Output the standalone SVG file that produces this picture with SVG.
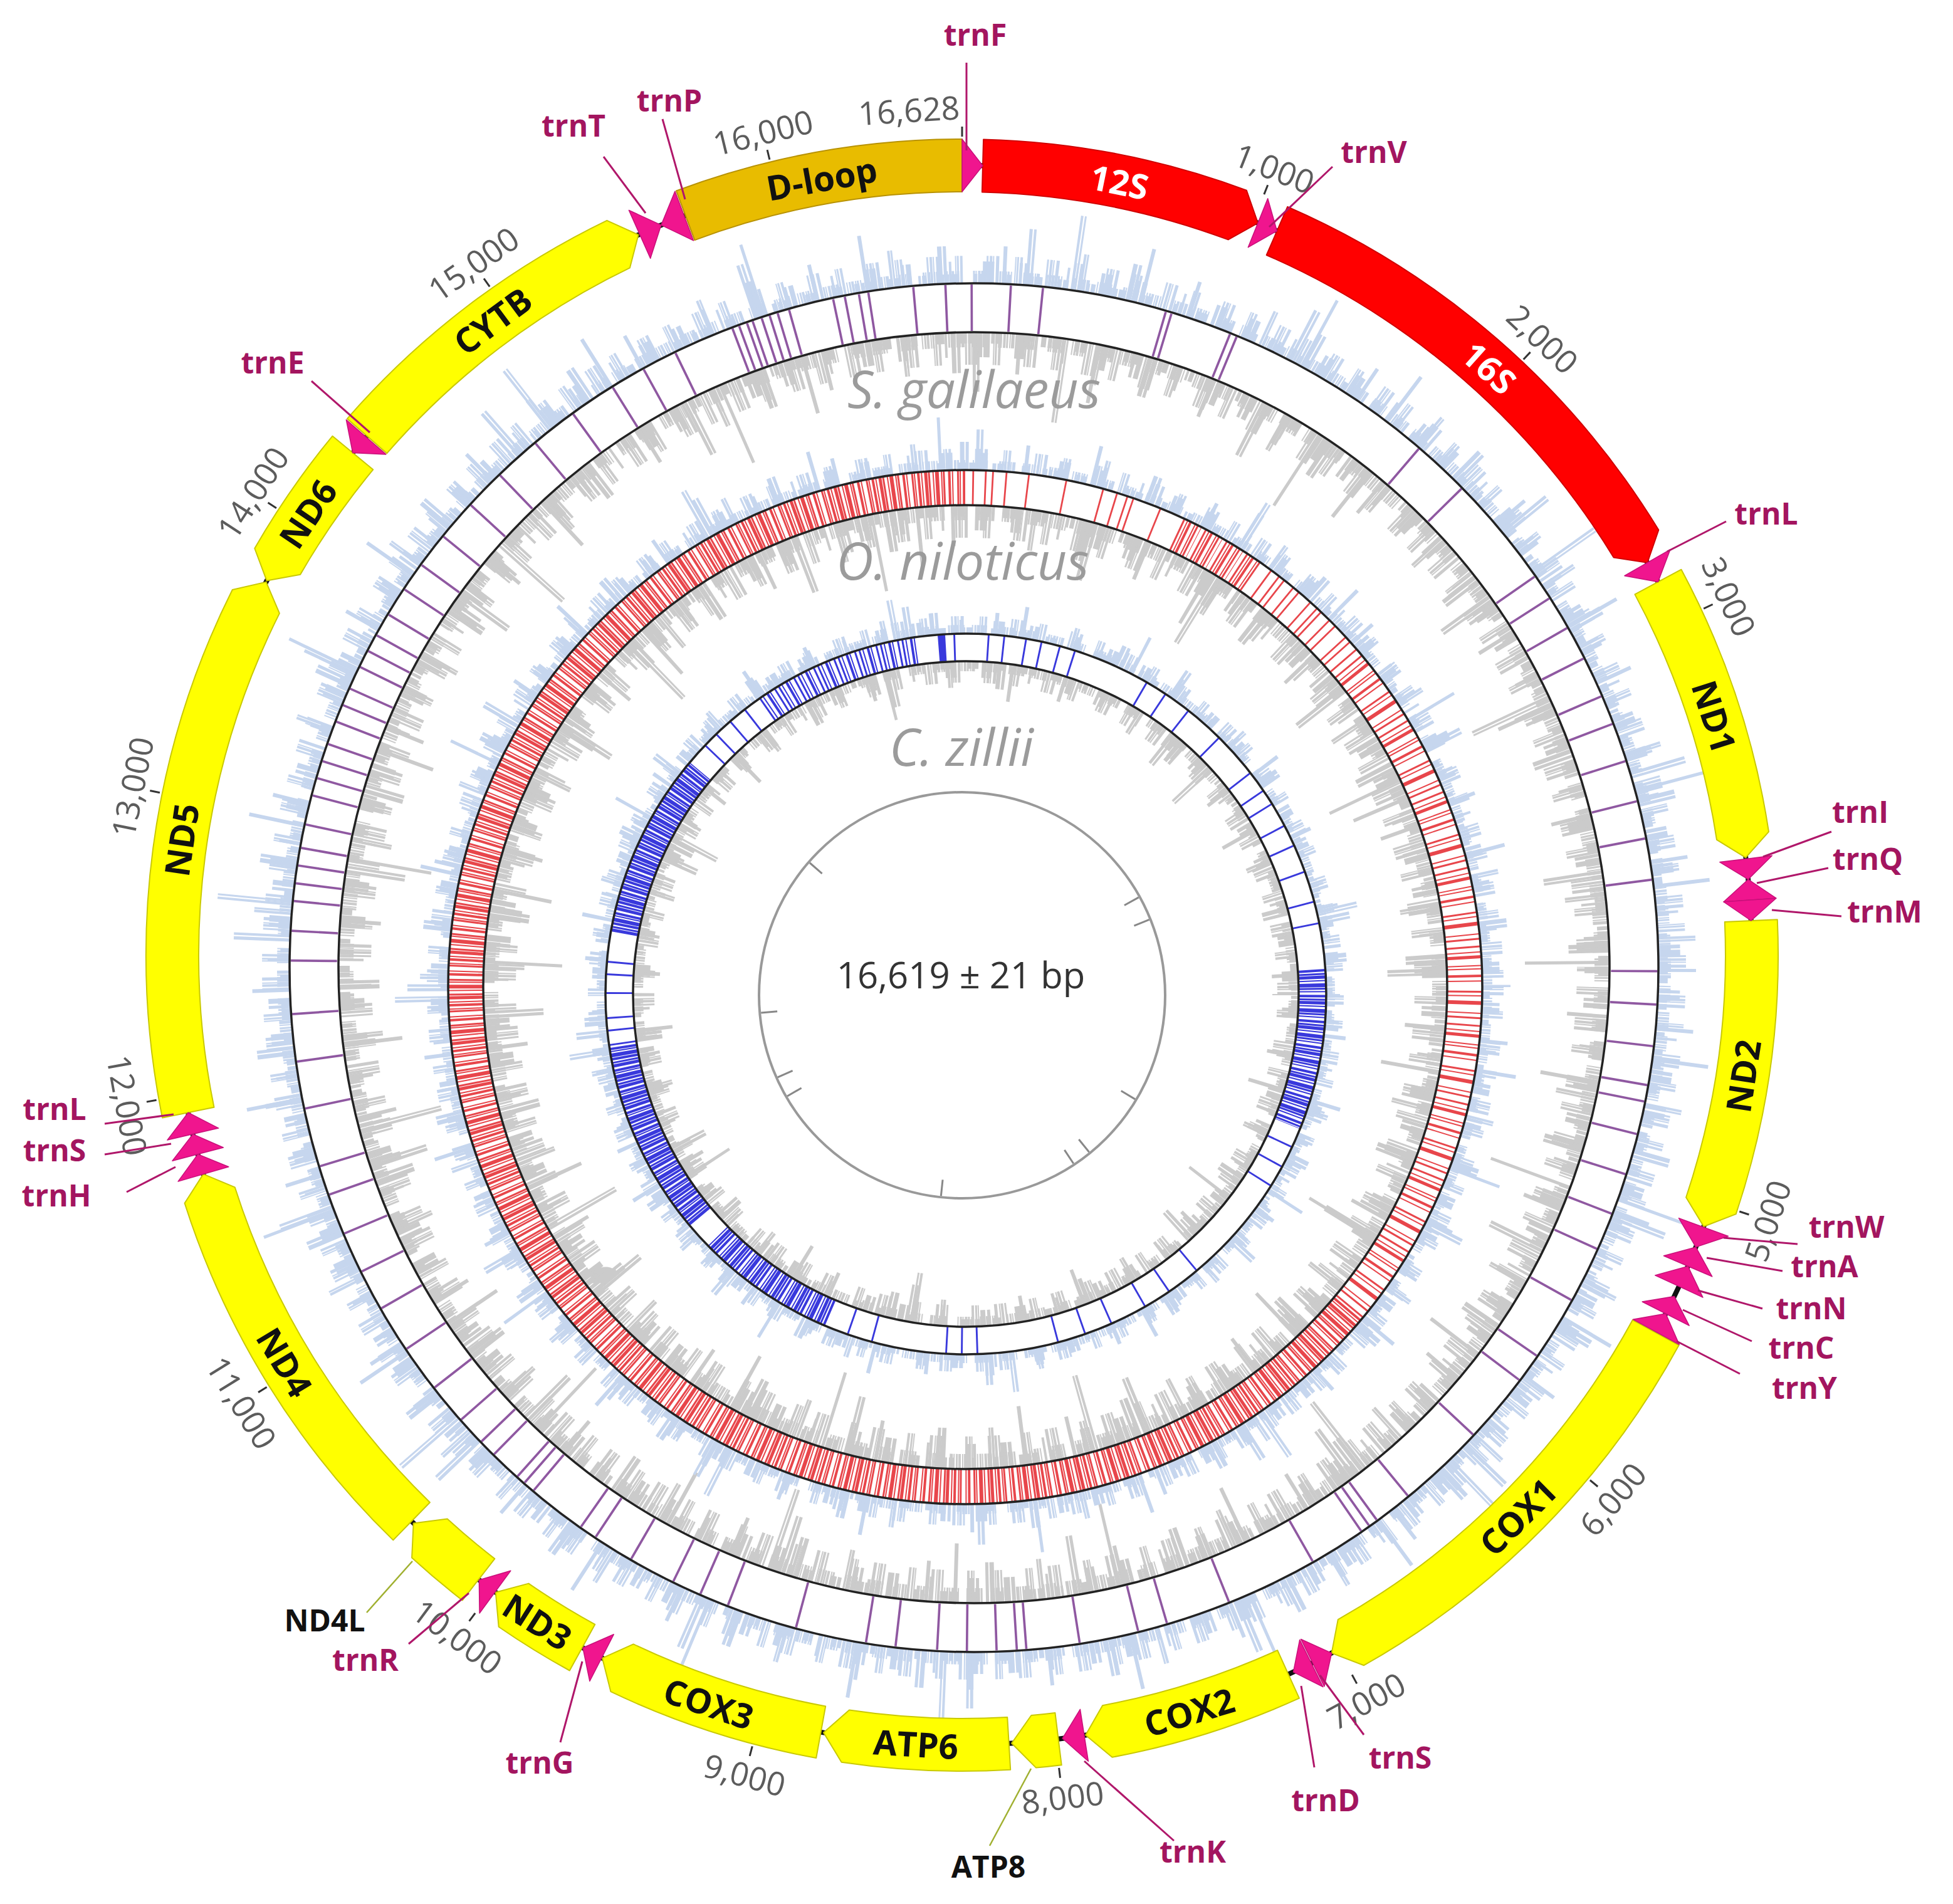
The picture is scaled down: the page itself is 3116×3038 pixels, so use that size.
<svg xmlns="http://www.w3.org/2000/svg" width="3116" height="3038" viewBox="0 0 3116 3038">
<style>
.gene{fill:#ffff00;stroke:#c9c900;stroke-width:2;stroke-linejoin:round}
.rrna{fill:#ff0000;stroke:#d00000;stroke-width:2;stroke-linejoin:round}
.dloop{fill:#e8bc00;stroke:#b89200;stroke-width:2;stroke-linejoin:round}
.trna{fill:#f0158e;stroke:#c8107a;stroke-width:1.5;stroke-linejoin:round}
.glab{font-family:"Open Sans","Liberation Sans",sans-serif;font-weight:700;font-size:55px;text-anchor:middle;dominant-baseline:central;fill:#111}
.wlab{fill:#ffffff}
.tlab{font-family:"Open Sans","Liberation Sans",sans-serif;font-weight:700;font-size:48px;fill:#a3155f;text-anchor:middle}
.blab{font-family:"Open Sans","Liberation Sans",sans-serif;font-weight:700;font-size:48px;fill:#111;text-anchor:middle}
.lead{stroke:#b0176a;stroke-width:3;fill:none}
.olead{stroke:#a0b030;stroke-width:2.5;fill:none}
.tick{stroke:#333;stroke-width:3}
.itick{stroke:#888;stroke-width:3}
.num{font-family:"Open Sans","Liberation Sans",sans-serif;font-size:52px;fill:#5c5c5c;text-anchor:middle;dominant-baseline:central}
.sp{font-family:"Open Sans","Liberation Sans",sans-serif;font-style:italic;font-size:82px;fill:#9b9b9b;text-anchor:middle}
.ring{fill:none;stroke:#222;stroke-width:3.5}
.hg{fill:none;stroke:#cbcbcb}
.hb{fill:none;stroke:#c6d6ee}
.d1{stroke-dasharray:8 3 5 2 12 25 6 2 9 30 4 2 7 20}
.d2{stroke-dasharray:6 2 10 40 5 3 8 60 4 50}
.d3{stroke-dasharray:7 2 5 90 6 120 4 1 3 70}
.d4{stroke-dasharray:5 2 4 180 6 260}
.d5{stroke-dasharray:4 2 3 400 5 520}
.e1{stroke-dasharray:3 1 2 2 4 1 3 2 2 1 5 12 2 2 3 1 4 2 2 1 3 2 2 18}
.e2{stroke-dasharray:3 2 4 1 2 3 5 25 2 1 3 2 4 38}
.pl{fill:none;stroke:#7b3b91;stroke-opacity:0.85}
.rl{fill:none;stroke:#e4262b;stroke-opacity:0.85}
.bl{fill:none;stroke:#2424d8;stroke-opacity:0.9}
</style>

<g id="histograms">
<g id="hist-sgal">
<circle class="hb d5" cx="1554" cy="1544" r="1152" stroke-width="120" stroke-dashoffset="13"/>
<circle class="hb d4" cx="1554" cy="1544" r="1137" stroke-width="90" stroke-dashoffset="41"/>
<circle class="hb d3" cx="1554" cy="1544" r="1122" stroke-width="60" stroke-dashoffset="7"/>
<circle class="hb e2" cx="1554" cy="1544" r="1114" stroke-width="44" stroke-dashoffset="51"/>
<circle class="hb d2" cx="1554" cy="1544" r="1109.5" stroke-width="35" stroke-dashoffset="22"/>
<circle class="hb e1" cx="1554" cy="1544" r="1102" stroke-width="20" stroke-dashoffset="9"/>
<circle class="hb d1" cx="1554" cy="1544" r="1099.5" stroke-width="15" stroke-dashoffset="5"/>
<circle class="hg d5" cx="1554" cy="1544" r="946.5" stroke-width="135" stroke-dashoffset="77"/>
<circle class="hg d4" cx="1554" cy="1544" r="966.5" stroke-width="95" stroke-dashoffset="18"/>
<circle class="hg d3" cx="1554" cy="1544" r="981.5" stroke-width="65" stroke-dashoffset="31"/>
<circle class="hg e2" cx="1554" cy="1544" r="988" stroke-width="52" stroke-dashoffset="14"/>
<circle class="hg d2" cx="1554" cy="1544" r="994" stroke-width="40" stroke-dashoffset="9"/>
<circle class="hg e1" cx="1554" cy="1544" r="1002" stroke-width="24" stroke-dashoffset="40"/>
<circle class="hg d1" cx="1554" cy="1544" r="1005" stroke-width="18" stroke-dashoffset="17"/>
</g>
<g id="hist-onil">
<circle class="hb d5" cx="1540" cy="1575" r="867.5" stroke-width="85" stroke-dashoffset="101"/>
<circle class="hb d4" cx="1540" cy="1575" r="857.5" stroke-width="65" stroke-dashoffset="55"/>
<circle class="hb d3" cx="1540" cy="1575" r="847.5" stroke-width="45" stroke-dashoffset="19"/>
<circle class="hb e2" cx="1540" cy="1575" r="842" stroke-width="34" stroke-dashoffset="7"/>
<circle class="hb d2" cx="1540" cy="1575" r="839" stroke-width="28" stroke-dashoffset="33"/>
<circle class="hb e1" cx="1540" cy="1575" r="833" stroke-width="16" stroke-dashoffset="21"/>
<circle class="hb d1" cx="1540" cy="1575" r="831" stroke-width="12" stroke-dashoffset="11"/>
<circle class="hg d5" cx="1540" cy="1575" r="706.5" stroke-width="125" stroke-dashoffset="23"/>
<circle class="hg d4" cx="1540" cy="1575" r="721.5" stroke-width="95" stroke-dashoffset="66"/>
<circle class="hg d3" cx="1540" cy="1575" r="736.5" stroke-width="65" stroke-dashoffset="44"/>
<circle class="hg e2" cx="1540" cy="1575" r="743" stroke-width="52" stroke-dashoffset="30"/>
<circle class="hg d2" cx="1540" cy="1575" r="749" stroke-width="40" stroke-dashoffset="27"/>
<circle class="hg e1" cx="1540" cy="1575" r="757" stroke-width="24" stroke-dashoffset="12"/>
<circle class="hg d1" cx="1540" cy="1575" r="760" stroke-width="18" stroke-dashoffset="3"/>
</g>
<g id="hist-czil">
<circle class="hb d5" cx="1541" cy="1586" r="607.5" stroke-width="65" stroke-dashoffset="61"/>
<circle class="hb d4" cx="1541" cy="1586" r="600" stroke-width="50" stroke-dashoffset="14"/>
<circle class="hb d3" cx="1541" cy="1586" r="592.5" stroke-width="35" stroke-dashoffset="38"/>
<circle class="hb e2" cx="1541" cy="1586" r="589" stroke-width="28" stroke-dashoffset="3"/>
<circle class="hb d2" cx="1541" cy="1586" r="586" stroke-width="22" stroke-dashoffset="15"/>
<circle class="hb e1" cx="1541" cy="1586" r="582" stroke-width="14" stroke-dashoffset="6"/>
<circle class="hb d1" cx="1541" cy="1586" r="580" stroke-width="10" stroke-dashoffset="29"/>
<circle class="hg d5" cx="1541" cy="1586" r="491" stroke-width="80" stroke-dashoffset="88"/>
<circle class="hg d4" cx="1541" cy="1586" r="501" stroke-width="60" stroke-dashoffset="47"/>
<circle class="hg d3" cx="1541" cy="1586" r="510" stroke-width="42" stroke-dashoffset="12"/>
<circle class="hg e2" cx="1541" cy="1586" r="514" stroke-width="34" stroke-dashoffset="19"/>
<circle class="hg d2" cx="1541" cy="1586" r="518" stroke-width="26" stroke-dashoffset="36"/>
<circle class="hg e1" cx="1541" cy="1586" r="523" stroke-width="16" stroke-dashoffset="27"/>
<circle class="hg d1" cx="1541" cy="1586" r="525" stroke-width="12" stroke-dashoffset="8"/>
</g>
</g>

<g id="track-sgal">
<path class="pl" stroke-width="74" pathLength="3600" d="M1554 491 A1053 1053 0 1 1 1554 2597 A1053 1053 0 1 1 1554 491" stroke-dasharray="0 30 2 25 2 103 2 3 2 50 2 4 2 178 2 47 2 94 2 20 2 27 2 27 2 33 2 23 2 31 2 33 2 30 2 33 2 75 2 26 2 33 2 31 2 12 2 26 2 33 2 33 2 30 2 46 2 53 2 23 2 58 2 73 2 31 2 6 2 6 2 46 2 76 2 53 2 23 2 48 2 43 2 6 2 15 2 23 2 23 2 33 2 23 2 58 2 58 2 23 2 23 2 38 2 33 2 13 2 48 2 8 2 6 2 25 2 13 2 23 2 33 2 38 2 38 2 33 2 33 2 33 2 23 2 48 2 38 2 38 2 43 2 23 2 23 2 13 2 13 2 13 2 18 2 23 2 13 2 13 2 13 2 18 2 13 2 13 2 18 2 13 2 13 2 18 2 23 2 23 2 28 2 33 2 33 2 38 2 38 2 38 2 28 2 28 2 50 2 4 2 5 2 3 2 6 2 5 2 5 2 8 2 36 2 8 2 10 2 6 2 36 2 25 2 20 2 100"/>
<circle class="ring" cx="1554" cy="1544" r="1092"/>
<circle class="ring" cx="1554" cy="1544" r="1014"/>
</g>

<g id="track-onil">
<path class="rl" stroke-width="54" pathLength="3600" d="M1540 778 A797 797 0 1 1 1540 2372 A797 797 0 1 1 1540 778" stroke-dasharray="0 8 2 12 2 6 2 13 2 23 2 40 2 40 2 14 2 10 2 5 2 30 2 139 2 9 2 5 2 11 2 6 2 15 2 8 2 4 2 11 2 7 2 15 2 5 2 9 2 9999"/>
<path class="rl" stroke-width="54" d="M1876.8 852.7 A797 797 0 0 1 1997.1 922.1" stroke-dasharray="3 3 2 2 4 5 2 2 3 4 1 6"/>
<path class="rl" stroke-width="54" d="M2150.5 1062.7 A797 797 0 0 1 2150.5 2087.3" stroke-dasharray="3 6 2 4 5 10 2 3 2 8 4 5 2 14 3 4 2 7 6 12 2 5 3 9"/>
<path class="rl" stroke-width="54" d="M2150.5 2087.3 A797 797 0 1 1 1540 778" stroke-dasharray="4 2 2 3 5 1 3 4 2 2 6 3 2 1 3 5 4 2 2 6 3 1 2 3"/>
<circle class="ring" cx="1540" cy="1575" r="825"/>
<circle class="ring" cx="1540" cy="1575" r="769"/>
</g>

<g id="track-czil">
<path class="bl" stroke-width="42" pathLength="3600" d="M1541 1033 A553 553 0 1 1 1541 2139 A553 553 0 1 1 1541 1033" stroke-dasharray="0 35 3 22 3 32 3 22 3 27 3 22 3 122 3 32 3 42 3 62 3 72 3 32 3 22 3 37 3 32 3 42 3 47 3 32 3 362 3 32 3 32 3 177 3 52 3 42 3 57 3 42 3 42 3 127 3 22 3 22 3 117 3 37 3 647 3 17 3 37 3 27 3 17 3 382 3 22 3 27 3 27 3 332 12 13 3 200"/>
<path class="bl" stroke-width="42" d="M1223.8 1133 A553 553 0 0 1 1464 1038.4" stroke-dasharray="3 3 2 5 4 2 2 6 3 4"/>
<path class="bl" stroke-width="42" d="M2092.7 1547.4 A553 553 0 0 1 2053.7 1793.2" stroke-dasharray="4 2 3 1 5 2 2 3 6 1 3 2 2 4"/>
<path class="bl" stroke-width="42" d="M1324.9 2095 A553 553 0 0 1 1143.2 1970.1" stroke-dasharray="4 2 3 1 5 2 2 3 6 1 3 2 2 4"/>
<path class="bl" stroke-width="42" d="M1117.4 1941.5 A553 553 0 0 1 993.4 1663" stroke-dasharray="5 1 3 2 4 1 6 2 2 1 4 3"/>
<path class="bl" stroke-width="42" d="M996.4 1490 A553 553 0 0 1 1117.4 1230.5" stroke-dasharray="5 1 3 2 4 1 6 2 2 1 4 3"/>
<circle class="ring" cx="1541" cy="1586" r="575"/>
<circle class="ring" cx="1541" cy="1586" r="531"/>
</g>

<g id="species-labels">
<text class="sp" x="1554" y="651">S. galilaeus</text>
<text class="sp" x="1536" y="925">O. niloticus</text>
<text class="sp" x="1534" y="1222">C. zillii</text>
</g>

<g id="center">
<circle cx="1535" cy="1588" r="324" fill="none" stroke="#999" stroke-width="4"/>
<g class="itick">
<line x1="1535" y1="1266" x2="1535" y2="1292" transform="rotate(61 1535 1588)"/>
<line x1="1535" y1="1266" x2="1535" y2="1292" transform="rotate(68 1535 1588)"/>
<line x1="1535" y1="1266" x2="1535" y2="1292" transform="rotate(121 1535 1588)"/>
<line x1="1535" y1="1266" x2="1535" y2="1292" transform="rotate(141 1535 1588)"/>
<line x1="1535" y1="1266" x2="1535" y2="1292" transform="rotate(146.5 1535 1588)"/>
<line x1="1535" y1="1266" x2="1535" y2="1292" transform="rotate(186 1535 1588)"/>
<line x1="1535" y1="1266" x2="1535" y2="1292" transform="rotate(240 1535 1588)"/>
<line x1="1535" y1="1266" x2="1535" y2="1292" transform="rotate(246 1535 1588)"/>
<line x1="1535" y1="1266" x2="1535" y2="1292" transform="rotate(265 1535 1588)"/>
<line x1="1535" y1="1266" x2="1535" y2="1292" transform="rotate(311 1535 1588)"/>
</g>
<text x="1533" y="1577" font-family="Open Sans, Liberation Sans, sans-serif" font-size="58" fill="#333" text-anchor="middle">16,619 ± 21 bp</text>
</g>

<circle id="backbone" cx="1535" cy="1524" r="1260" fill="none" stroke="#111" stroke-width="8"/>

<g id="genes">
<path id="D-loop" class="dloop" d="M1079 304.5 A1302 1302 0 0 1 1535 222 L1535 306 A1218 1218 0 0 0 1108.4 383.1Z"/>
<path id="rrn12S" class="rrna" d="M1569.1 222.4 A1302 1302 0 0 1 1988.8 303.7 L2007 355.8 L1959.6 382.4 A1218 1218 0 0 0 1566.9 306.4Z"/>
<path id="rrn16S" class="rrna" d="M2054.2 330 A1302 1302 0 0 1 2646.3 845.6 L2628.4 897.8 L2574.6 889.4 A1218 1218 0 0 0 2020.7 407Z"/>
<path id="ND1" class="gene" d="M2682.5 908.7 A1302 1302 0 0 1 2822 1327.1 L2785.3 1368.3 L2739 1339.8 A1218 1218 0 0 0 2608.4 948.4Z"/>
<path id="ND2" class="gene" d="M2835.8 1467.2 A1302 1302 0 0 1 2769.7 1937.1 L2718.3 1957 L2690.1 1910.5 A1218 1218 0 0 0 2751.8 1470.9Z"/>
<path id="COX1" class="gene" d="M2678.7 2146.3 A1302 1302 0 0 1 2176.1 2657.2 L2124.6 2637.6 L2134.8 2584.1 A1218 1218 0 0 0 2604.9 2106.1Z"/>
<path id="COX2" class="gene" d="M2072.9 2709.7 A1302 1302 0 0 1 1774.5 2803.8 L1732.1 2768.5 L1759.1 2721.2 A1218 1218 0 0 0 2038.2 2633.2Z"/>
<path id="ATP8" class="gene" d="M1693.7 2816.3 A1302 1302 0 0 1 1653 2820.6 L1614.1 2781.5 L1645.4 2737 A1218 1218 0 0 0 1683.4 2732.9Z"/>
<path id="ATP6" class="gene" d="M1612.2 2823.7 A1302 1302 0 0 1 1342.6 2811.7 L1314 2764.5 L1355 2728.6 A1218 1218 0 0 0 1607.2 2739.9Z"/>
<path id="COX3" class="gene" d="M1302.2 2805 A1302 1302 0 0 1 974.5 2699.2 L961 2645.7 L1010.6 2623.4 A1218 1218 0 0 0 1317.2 2722.4Z"/>
<path id="ND3" class="gene" d="M908.8 2665.5 A1302 1302 0 0 1 795.7 2595.7 L790.8 2540.8 L843.4 2526.6 A1218 1218 0 0 0 949.2 2591.9Z"/>
<path id="ND4L" class="gene" d="M737.8 2553.5 A1302 1302 0 0 1 657.1 2485.5 L659.7 2430.4 L713.7 2423.4 A1218 1218 0 0 0 789.3 2487.1Z"/>
<path id="ND4" class="gene" d="M627.3 2457.4 A1302 1302 0 0 1 294.6 1919.8 L324.4 1873.4 L374.7 1894.3 A1218 1218 0 0 0 685.9 2397.2Z"/>
<path id="ND5" class="gene" d="M259.1 1783.6 A1302 1302 0 0 1 370.8 941 L424.6 928.6 L445.9 978.6 A1218 1218 0 0 0 341.5 1766.8Z"/>
<path id="ND6" class="gene" d="M425.6 926.6 L406.3 875 A1302 1302 0 0 1 530.4 695.8 L595.2 749.3 A1218 1218 0 0 0 479.1 916.8Z"/>
<path id="CYTB" class="gene" d="M553.9 668.1 A1302 1302 0 0 1 968.3 351.8 L1018.5 374.7 L1004.9 427.4 A1218 1218 0 0 0 617.2 723.3Z"/>
</g>

<g id="trnas">
<path id="trnF" class="trna" d="M1535 222 L1568 264.4 L1535 306Z"/>
<path id="trnV" class="trna" d="M2022.7 316.8 L2037.4 368.5 L1991.3 394.7Z"/>
<path id="trnL2" class="trna" d="M2664.8 876.9 L2645.4 928.6 L2591.9 918.7Z"/>
<path id="trnI" class="trna" d="M2827.3 1365.3 L2789.2 1403.2 L2743.9 1375.6Z"/>
<path id="trnQ" class="trna" d="M2833.8 1433.2 L2789.2 1403.2 L2750 1439Z"/>
<path id="trnM" class="trna" d="M2833.8 1433.2 L2793.8 1469 L2750 1439Z"/>
<path id="trnW" class="trna" d="M2757.4 1972.5 L2705.7 1989.9 L2678.5 1943.6Z"/>
<path id="trnA" class="trna" d="M2731.7 2036.9 L2705.7 1989.9 L2654.5 2003.8Z"/>
<path id="trnN" class="trna" d="M2716.9 2070.1 L2693.1 2020.4 L2640.7 2034.9Z"/>
<path id="trnC" class="trna" d="M2695.1 2115.1 L2671.3 2068.4 L2620.2 2077Z"/>
<path id="trnY" class="trna" d="M2679.2 2145.3 L2657.7 2096 L2605.4 2105.2Z"/>
<path id="trnS2" class="trna" d="M2112.9 2690.8 L2124.6 2637.6 L2075.6 2615.5Z"/>
<path id="trnD" class="trna" d="M2110.9 2691.7 L2063.5 2667.8 L2073.7 2616.4Z"/>
<path id="trnK" class="trna" d="M1736.4 2810.3 L1695.1 2773.8 L1723.4 2727.3Z"/>
<path id="trnG" class="trna" d="M940.9 2682.5 L929.9 2629.2 L979.2 2607.8Z"/>
<path id="trnR" class="trna" d="M765.1 2574 L764.4 2521 L814.8 2506.3Z"/>
<path id="trnH" class="trna" d="M284.1 1885.1 L315.7 1841.6 L364.8 1861.8Z"/>
<path id="trnS1" class="trna" d="M275 1852.2 L307.8 1809.6 L356.3 1831Z"/>
<path id="trnL1" class="trna" d="M266.9 1819.1 L300.3 1775.2 L348.7 1800.1Z"/>
<path id="trnE" class="trna" d="M552.4 669.8 L562.8 722.5 L615.8 724.9Z"/>
<path id="trnT" class="trna" d="M1003.4 335.5 L1054.9 359.1 L1037.7 412.2Z"/>
<path id="trnP" class="trna" d="M1076.9 305.3 L1054.9 359.1 L1106.5 383.9Z"/>
</g>

<g id="gene-labels">
<text class="glab wlab" x="1535" y="264" transform="rotate(11.5 1535 1524)">12S</text>
<text class="glab wlab" x="1535" y="264" transform="rotate(41.9 1535 1524)">16S</text>
<text class="glab" x="1535" y="264" transform="rotate(72.4 1535 1524)">ND1</text>
<text class="glab" x="1535" y="2784" transform="rotate(-81.2 1535 1524)">ND2</text>
<text class="glab" x="1535" y="2784" transform="rotate(-44.7 1535 1524)">COX1</text>
<text class="glab" x="1535" y="2784" transform="rotate(-16.7 1535 1524)">COX2</text>
<text class="glab" x="1535" y="2784" transform="rotate(3.35 1535 1524)">ATP6</text>
<text class="glab" x="1535" y="2784" transform="rotate(18.7 1535 1524)">COX3</text>
<text class="glab" x="1535" y="2784" transform="rotate(32.5 1535 1524)">ND3</text>
<text class="glab" x="1535" y="2784" transform="rotate(59 1535 1524)">ND4</text>
<text class="glab" x="1535" y="264" transform="rotate(278.4 1535 1524)">ND5</text>
<text class="glab" x="1535" y="264" transform="rotate(304 1535 1524)">ND6</text>
<text class="glab" x="1535" y="264" transform="rotate(323.5 1535 1524)">CYTB</text>
<text class="glab" x="1535" y="264" transform="rotate(349.75 1535 1524)">D-loop</text>
</g>

<g id="scale">
<g class="tick">
<line x1="1535" y1="218" x2="1535" y2="202"/>
<line x1="1535" y1="218" x2="1535" y2="202" transform="rotate(21.65 1535 1524)"/>
<line x1="1535" y1="218" x2="1535" y2="202" transform="rotate(43.3 1535 1524)"/>
<line x1="1535" y1="218" x2="1535" y2="202" transform="rotate(64.95 1535 1524)"/>
<line x1="1535" y1="218" x2="1535" y2="202" transform="rotate(108.25 1535 1524)"/>
<line x1="1535" y1="218" x2="1535" y2="202" transform="rotate(129.9 1535 1524)"/>
<line x1="1535" y1="218" x2="1535" y2="202" transform="rotate(151.55 1535 1524)"/>
<line x1="1535" y1="218" x2="1535" y2="202" transform="rotate(173.2 1535 1524)"/>
<line x1="1535" y1="218" x2="1535" y2="202" transform="rotate(194.85 1535 1524)"/>
<line x1="1535" y1="218" x2="1535" y2="202" transform="rotate(216.5 1535 1524)"/>
<line x1="1535" y1="218" x2="1535" y2="202" transform="rotate(238.15 1535 1524)"/>
<line x1="1535" y1="218" x2="1535" y2="202" transform="rotate(259.8 1535 1524)"/>
<line x1="1535" y1="218" x2="1535" y2="202" transform="rotate(281.45 1535 1524)"/>
<line x1="1535" y1="218" x2="1535" y2="202" transform="rotate(303.1 1535 1524)"/>
<line x1="1535" y1="218" x2="1535" y2="202" transform="rotate(324.75 1535 1524)"/>
<line x1="1535" y1="218" x2="1535" y2="202" transform="rotate(346.4 1535 1524)"/>
</g>
<text class="num" x="1535" y="172" transform="rotate(-3.6 1535 1524)">16,628</text>
<text class="num" x="1535" y="172" transform="rotate(21.65 1535 1524)">1,000</text>
<text class="num" x="1535" y="172" transform="rotate(43.3 1535 1524)">2,000</text>
<text class="num" x="1535" y="172" transform="rotate(64.95 1535 1524)">3,000</text>
<text class="num" x="1535" y="2876" transform="rotate(-71.75 1535 1524)">5,000</text>
<text class="num" x="1535" y="2876" transform="rotate(-50.1 1535 1524)">6,000</text>
<text class="num" x="1535" y="2876" transform="rotate(-28.45 1535 1524)">7,000</text>
<text class="num" x="1535" y="2876" transform="rotate(-6.8 1535 1524)">8,000</text>
<text class="num" x="1535" y="2876" transform="rotate(14.85 1535 1524)">9,000</text>
<text class="num" x="1535" y="2876" transform="rotate(36.5 1535 1524)">10,000</text>
<text class="num" x="1535" y="2876" transform="rotate(58.15 1535 1524)">11,000</text>
<text class="num" x="1535" y="2876" transform="rotate(79.8 1535 1524)">12,000</text>
<text class="num" x="1535" y="172" transform="rotate(281.45 1535 1524)">13,000</text>
<text class="num" x="1535" y="172" transform="rotate(303.1 1535 1524)">14,000</text>
<text class="num" x="1535" y="172" transform="rotate(324.75 1535 1524)">15,000</text>
<text class="num" x="1535" y="172" transform="rotate(346.4 1535 1524)">16,000</text>
</g>

<g id="connectors">
<line class="lead" x1="1542" y1="100" x2="1542" y2="240"/>
<line class="lead" x1="1057" y1="190" x2="1093" y2="318"/>
<line class="lead" x1="963" y1="250" x2="1030" y2="340"/>
<line class="lead" x1="497" y1="608" x2="590" y2="690"/>
<line class="lead" x1="2126" y1="266" x2="2025" y2="362"/>
<line class="lead" x1="2754" y1="832" x2="2660" y2="880"/>
<line class="lead" x1="2922" y1="1327" x2="2813" y2="1367"/>
<line class="lead" x1="2917" y1="1385" x2="2803" y2="1409"/>
<line class="lead" x1="2938" y1="1462" x2="2827" y2="1452"/>
<line class="lead" x1="2868" y1="1985" x2="2750" y2="1975"/>
<line class="lead" x1="2844" y1="2028" x2="2723" y2="2007"/>
<line class="lead" x1="2812" y1="2088" x2="2709" y2="2059"/>
<line class="lead" x1="2795" y1="2140" x2="2685" y2="2090"/>
<line class="lead" x1="2776" y1="2192" x2="2675" y2="2140"/>
<line class="lead" x1="2176" y1="2768" x2="2106" y2="2673"/>
<line class="lead" x1="2097" y1="2820" x2="2076" y2="2690"/>
<line class="lead" x1="1873" y1="2937" x2="1730" y2="2810"/>
<line class="olead" x1="1579" y1="2945" x2="1645" y2="2822"/>
<line class="lead" x1="894" y1="2780" x2="929" y2="2651"/>
<line class="lead" x1="652" y1="2623" x2="748" y2="2542"/>
<line class="olead" x1="585" y1="2573" x2="658" y2="2491"/>
<line class="lead" x1="167" y1="1793" x2="277" y2="1778"/>
<line class="lead" x1="167" y1="1842" x2="273" y2="1825"/>
<line class="lead" x1="202" y1="1902" x2="280" y2="1862"/>
</g>

<g id="feature-labels">
<text class="tlab" x="1556" y="73">trnF</text>
<text class="tlab" x="1068" y="178">trnP</text>
<text class="tlab" x="915" y="218">trnT</text>
<text class="tlab" x="435" y="596">trnE</text>
<text class="tlab" x="2192" y="260">trnV</text>
<text class="tlab" x="2818" y="837">trnL</text>
<text class="tlab" x="2968" y="1313">trnI</text>
<text class="tlab" x="2980" y="1388">trnQ</text>
<text class="tlab" x="3007" y="1472">trnM</text>
<text class="tlab" x="2946" y="1975">trnW</text>
<text class="tlab" x="2911" y="2038">trnA</text>
<text class="tlab" x="2890" y="2105">trnN</text>
<text class="tlab" x="2874" y="2168">trnC</text>
<text class="tlab" x="2879" y="2232">trnY</text>
<text class="tlab" x="2234" y="2822">trnS</text>
<text class="tlab" x="2115" y="2890">trnD</text>
<text class="tlab" x="1903" y="2972">trnK</text>
<text class="blab" x="1577" y="2996">ATP8</text>
<text class="tlab" x="861" y="2830">trnG</text>
<text class="tlab" x="583" y="2666">trnR</text>
<text class="blab" x="518" y="2603">ND4L</text>
<text class="tlab" x="87" y="1787">trnL</text>
<text class="tlab" x="87" y="1853">trnS</text>
<text class="tlab" x="90" y="1925">trnH</text>
</g>
</svg>
